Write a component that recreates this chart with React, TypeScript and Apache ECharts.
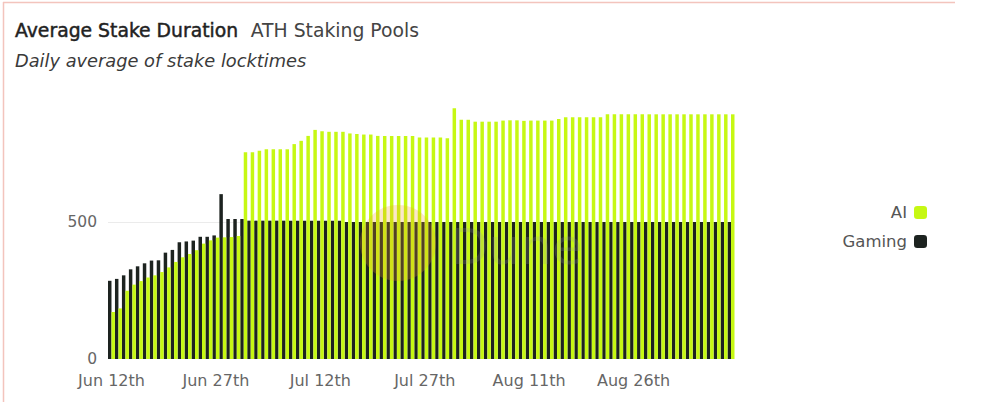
import React, { useEffect, useRef } from "react";
import * as echarts from "echarts";

const START_DATE = "2024-06-12";
const DAY_COUNT = 90;

const gamingValues = [
  286, 293, 306, 328, 339, 350, 360, 361, 389, 399,
  427, 430, 433, 447, 447, 452, 603, 512, 512, 512,
  506, 506, 506, 506, 506, 506, 506, 506, 506, 506,
  506, 506, 506, 506, 501, 501, 501, 501, 501, 501,
  501, 501, 501, 501, 501, 501, 501, 501, 501, 501,
  501, 501, 501, 501, 501, 501, 501, 501, 501, 501,
  501, 501, 501, 501, 501, 501, 501, 501, 501, 501,
  501, 501, 501, 501, 501, 501, 501, 501, 501, 501,
  501, 501, 501, 501, 501, 501, 501, 501, 501, 501,
];

const aiValues = [
  172, 185, 250, 272, 285, 298, 306, 318, 335, 355,
  372, 384, 398, 422, 434, 444, 445, 446, 450, 756,
  756, 762, 767, 767, 767, 767, 786, 798, 816, 838,
  833, 831, 831, 831, 825, 823, 821, 821, 816, 816,
  816, 816, 816, 816, 810, 810, 810, 810, 807, 917,
  875, 875, 868, 868, 868, 868, 872, 873, 873, 871,
  872, 872, 872, 872, 878, 884, 884, 884, 884, 884,
  884, 895, 895, 895, 895, 895, 895, 895, 895, 895,
  895, 895, 895, 895, 895, 895, 895, 895, 895, 895,
];

const yTicks = [0, 500, 1000];
const legendOrder = ["AI", "Gaming"];

const MONTHS = ["Jan", "Feb", "Mar", "Apr", "May", "Jun", "Jul", "Aug", "Sep", "Oct", "Nov", "Dec"];
function ordinal(d: number): string {
  if (d % 100 >= 11 && d % 100 <= 13) return d + "th";
  if (d % 10 === 1) return d + "st";
  if (d % 10 === 2) return d + "nd";
  if (d % 10 === 3) return d + "rd";
  return d + "th";
}
function buildCategories(): string[] {
  const out: string[] = [];
  const start = new Date(START_DATE + "T00:00:00Z");
  for (let i = 0; i < DAY_COUNT; i++) {
    const d = new Date(start.getTime() + i * 86400000);
    out.push(MONTHS[d.getUTCMonth()] + " " + ordinal(d.getUTCDate()));
  }
  return out;
}
const categories = buildCategories();

const FONT = "'DejaVu Sans', sans-serif";
const GREEN = "#c6f813";
const BLACK = "#1d2320";

export default function App() {
  const ref = useRef<HTMLDivElement>(null);
  useEffect(() => {
    if (!ref.current) return;
    document.body.style.margin = "0";
    const chart = echarts.init(ref.current, null, { renderer: "svg" });
    chart.setOption({
      animation: false,
      backgroundColor: "#ffffff",
      textStyle: { fontFamily: FONT },
      title: {
        left: 10,
        top: 16,
        text: "{a|Average Stake Duration}  {b|ATH Staking Pools}",
        subtext: "Daily average of stake locktimes",
        itemGap: 11,
        textStyle: {
          rich: {
            a: {
              fontFamily: FONT,
              fontSize: 18.8,
              fontWeight: 400,
              color: "#222",
              textBorderColor: "#222",
              textBorderWidth: 0.45,
            },
            b: { fontFamily: FONT, fontSize: 18.8, fontWeight: 400, color: "#444" },
          },
        },
        subtextStyle: {
          fontFamily: FONT,
          fontSize: 17.8,
          fontStyle: "italic",
          color: "#3a3a3a",
        },
      },
      legend: {
        orient: "vertical",
        right: 62,
        top: 199,
        align: "right",
        data: legendOrder,
        icon: "roundRect",
        itemWidth: 13,
        itemHeight: 13,
        itemGap: 12,
        textStyle: { fontFamily: FONT, fontSize: 16.5, color: "#555", padding: [0, 2, 0, 0] },
      },
      grid: { left: 108, right: 259.5, top: 85.6, bottom: 59, containLabel: false },
      xAxis: {
        type: "category",
        data: categories,
        boundaryGap: true,
        axisLine: { show: false },
        axisTick: { show: false },
        axisLabel: {
          interval: 14,
          margin: 13,
          fontFamily: FONT,
          fontSize: 16,
          color: "#666",
        },
      },
      yAxis: {
        type: "value",
        min: yTicks[0],
        max: yTicks[2],
        interval: yTicks[1] - yTicks[0],
        axisLine: { show: false },
        axisTick: { show: false },
        axisLabel: {
          showMaxLabel: false,
          margin: 11,
          fontFamily: FONT,
          fontSize: 15.5,
          color: "#666",
        },
        splitLine: {
          show: true,
          showMinLine: false,
          showMaxLine: false,
          lineStyle: { color: "#ebebeb", width: 1 },
        },
      },
      series: [
        {
          name: "Gaming",
          type: "bar",
          data: gamingValues,
          barGap: "0%",
          barCategoryGap: "0%",
          itemStyle: { color: BLACK },
        },
        {
          name: "AI",
          type: "bar",
          data: aiValues,
          barGap: "0%",
          barCategoryGap: "0%",
          itemStyle: { color: GREEN },
        },
      ],
      graphic: [
        {
          type: "line",
          silent: true,
          shape: { x1: 3, y1: 2.5, x2: 955, y2: 2.5 },
          style: { stroke: "#f3c4bd", lineWidth: 1.5 },
        },
        {
          type: "line",
          silent: true,
          shape: { x1: 3.5, y1: 2, x2: 3.5, y2: 402 },
          style: { stroke: "#f3c4bd", lineWidth: 1.5 },
        },
        {
          type: "circle",
          silent: true,
          z: 100,
          shape: { cx: 398, cy: 243, r: 38 },
          style: { fill: "rgba(240,160,40,0.25)" },
        },
        {
          type: "text",
          silent: true,
          z: 100,
          left: 450,
          top: 222,
          style: {
            text: "Dune",
            fontFamily: FONT,
            fontSize: 50,
            fontWeight: 400,
            fill: "rgba(150,150,150,0.22)",
          },
        },
      ],
    });
    return () => chart.dispose();
  }, []);
  return (
    <div
      ref={ref}
      style={{ position: "absolute", left: 0, top: 0, width: 994, height: 418 }}
    />
  );
}
